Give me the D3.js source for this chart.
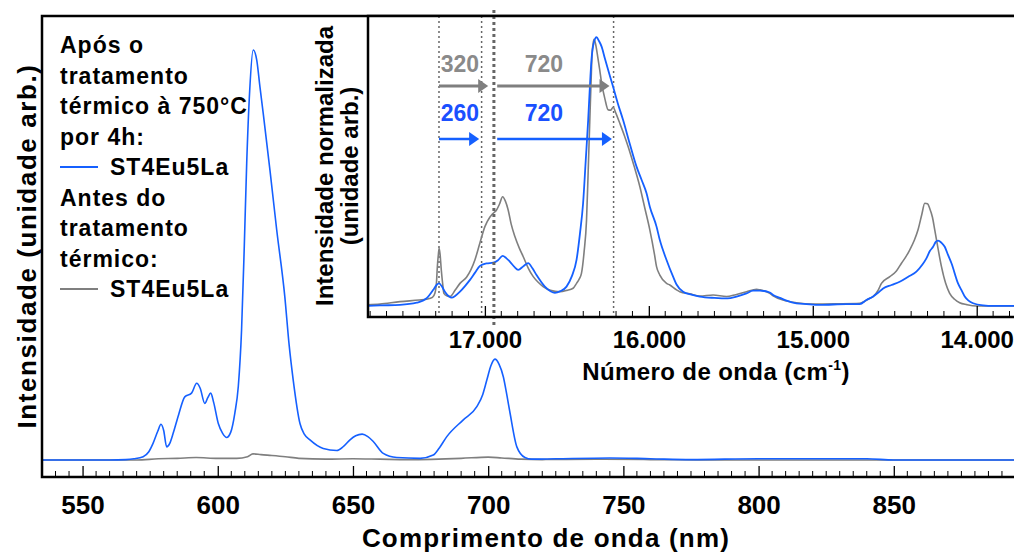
<!DOCTYPE html>
<html><head><meta charset="utf-8">
<script src="https://cdn.jsdelivr.net/npm/d3@7"></script>
<style>
html,body{margin:0;padding:0;background:#fff;}
svg{display:block;}
text{font-family:"Liberation Sans",Arial,sans-serif;font-weight:bold;}
</style></head>
<body>
<svg id="chart" width="1014" height="554"></svg>
<script>
// ---------- DATA ----------
// Main plot: wavelength (nm) vs intensity (arb.)
const mainTicks = [550, 600, 650, 700, 750, 800, 850];
const blueMainNm = [535,560,566,569,572.4,574.5,576.1,577.8,579,580,581.1,582.2,583.5,585.5,587.8,590.3,592.2,593.5,595.2,596.3,597.4,598.5,600.2,601.8,603.3,604.8,606.3,607.6,608.8,609.8,610.7,611.8,613.1,614.4,615.6,616.8,619.3,621.8,624.8,626.4,627.9,630.4,632,634.1,639,644,646.5,648.9,651,653.4,655.5,657.5,661.2,666.2,674.8,679.7,682,684.7,690.8,695.8,698,699.5,701,702.5,704,705.6,707,708.1,710.6,713.6,716,725,745,760,775,800,840,850,900];
const blueMainI  = [0,0,0.1,0.3,0.8,2,4.1,7,8.7,7.2,3.2,4,6.5,11,15.4,16.3,18.7,17.5,13.8,15.2,16.3,14,8.9,6.5,5.5,6.8,11.4,18,31.7,52,72.4,90,100,97.6,91,84.6,70.7,56.1,39.8,28,19.5,8.9,6.3,4.9,2.8,2.3,3.3,4.9,5.9,6.3,5.7,4.5,1.6,0.6,0.4,1.2,3,5.7,9.8,13,16,19.5,23,24.6,23.4,20.3,15.5,11.4,3.2,0.6,0.2,0.3,0.5,0.3,0.1,0.3,0.3,0,0];
const grayMainNm = [535,570,578,585,592,600,607,611,613,616,620,625,630,640,650,660,670,690,700,705,712,720,740,760,780,900];
const grayMainI  = [0,0,0.3,0.4,0.6,0.4,0.4,0.8,1.5,1.3,1.1,0.8,0.4,0.2,0.3,0.2,0.1,0.4,0.7,0.5,0.2,0.1,0.2,0.1,0,0];

// Inset: wavenumber (cm-1) vs normalized intensity
const insetTicks = [17000, 16000, 15000, 14000];
const insetTickLabels = ["17.000", "16.000", "15.000", "14.000"];
const blueInsetWn = [17720,17640,17518,17416,17355,17315,17295,17279,17262,17244,17220,17203,17180,17152,17120,17091,17060,17030,16990,16949,16920,16892,16870,16848,16820,16797,16765,16736,16710,16685,16634,16600,16573,16540,16502,16470,16441,16420,16401,16385,16370,16360,16350,16335,16319,16304,16288,16268,16248,16218,16190,16157,16115,16075,16045,16014,15994,15953,15933,15892,15852,15831,15791,15740,15689,15600,15520,15465,15404,15364,15323,15262,15242,15200,15160,15100,15038,14957,14795,14713,14673,14632,14600,14571,14520,14470,14420,14368,14330,14307,14285,14266,14250,14236,14215,14195,14175,14154,14114,14090,14073,14050,14022,13960,13900,13700];
const blueInsetI  = [0,0.002,0.004,0.012,0.029,0.06,0.078,0.084,0.072,0.053,0.036,0.031,0.038,0.053,0.075,0.097,0.124,0.149,0.158,0.161,0.17,0.186,0.178,0.165,0.145,0.134,0.148,0.159,0.14,0.115,0.072,0.055,0.049,0.055,0.072,0.11,0.171,0.27,0.382,0.54,0.691,0.81,0.914,0.98,0.999,0.985,0.964,0.92,0.877,0.815,0.755,0.691,0.6,0.518,0.47,0.419,0.369,0.295,0.245,0.171,0.109,0.08,0.053,0.042,0.035,0.03,0.028,0.035,0.047,0.057,0.057,0.05,0.041,0.03,0.02,0.01,0.007,0.004,0.007,0.007,0.022,0.035,0.05,0.065,0.078,0.09,0.108,0.128,0.155,0.177,0.205,0.22,0.238,0.243,0.235,0.22,0.19,0.159,0.084,0.055,0.035,0.02,0.01,0.002,0,0];
const grayInsetWn = [17720,17640,17518,17400,17355,17320,17305,17295,17290,17284,17279,17273,17266,17258,17250,17230,17213,17180,17152,17112,17085,17061,17030,17000,16970,16949,16929,16910,16892,16875,16858,16840,16817,16790,16766,16735,16705,16675,16645,16600,16543,16500,16462,16440,16425,16411,16395,16380,16370,16360,16352,16346,16340,16334,16325,16315,16300,16288,16268,16248,16232,16218,16200,16177,16150,16126,16090,16055,16025,15994,15965,15953,15933,15892,15872,15831,15811,15750,15689,15608,15526,15470,15404,15343,15323,15262,15242,15181,15100,15000,14850,14713,14652,14632,14600,14581,14530,14490,14459,14430,14409,14380,14358,14335,14317,14300,14287,14270,14256,14235,14215,14190,14165,14135,14104,14060,14002,13700];
const grayInsetI  = [0.004,0.007,0.016,0.022,0.025,0.032,0.047,0.09,0.146,0.19,0.214,0.19,0.134,0.085,0.047,0.037,0.035,0.06,0.084,0.107,0.135,0.171,0.235,0.295,0.33,0.345,0.357,0.38,0.406,0.39,0.357,0.305,0.258,0.215,0.183,0.14,0.109,0.088,0.072,0.058,0.053,0.058,0.066,0.085,0.1,0.121,0.2,0.32,0.5,0.691,0.84,0.939,0.975,0.991,0.975,0.939,0.88,0.828,0.77,0.729,0.728,0.739,0.715,0.679,0.635,0.592,0.52,0.444,0.365,0.283,0.19,0.146,0.115,0.084,0.078,0.06,0.053,0.045,0.037,0.041,0.035,0.042,0.053,0.062,0.06,0.047,0.038,0.022,0.012,0.007,0.008,0.01,0.029,0.035,0.06,0.084,0.109,0.13,0.159,0.185,0.208,0.245,0.283,0.34,0.382,0.38,0.363,0.33,0.283,0.21,0.146,0.085,0.047,0.025,0.012,0.005,0,0];

// Inset annotations
const dottedWn = [17280, 17020, 16215];
const thickDottedWn = [16945];
const grayArrows = [[17280, 16980], [16925, 16240]];
const blueArrows = [[17280, 17035], [16925, 16225]];
const grayLabels = [{wn: 17152, t: "320"}, {wn: 16640, t: "720"}];
const blueLabels = [{wn: 17152, t: "260"}, {wn: 16640, t: "720"}];

// Legend
const legendLines = ["Após o", "tratamento", "térmico à 750°C", "por 4h:", "ST4Eu5La", "Antes do", "tratamento", "térmico:", "ST4Eu5La"];

const BLUE = "#1560ff", GRAY = "#7f7f7f";

// ---------- DRAW ----------
const svg = d3.select("#chart");

// Main plot
const M = {l: 42, t: 16, b: 477, r: 1029};
const x = d3.scaleLinear().domain([535, 900]).range([M.l, M.r]);
const y = d3.scaleLinear().domain([-4.15, 108.3]).range([M.b, M.t]);

svg.append("clipPath").attr("id", "clipMain").append("rect")
  .attr("x", M.l).attr("y", M.t).attr("width", M.r - M.l).attr("height", M.b - M.t);

const lineMain = d3.line().x(d => x(d[0])).y(d => y(d[1])).curve(d3.curveMonotoneX);
const gMain = svg.append("g").attr("clip-path", "url(#clipMain)");
gMain.append("path").datum(d3.zip(grayMainNm, grayMainI)).attr("d", lineMain)
  .attr("fill", "none").attr("stroke", GRAY).attr("stroke-width", 1.6);
gMain.append("path").datum(d3.zip(blueMainNm, blueMainI)).attr("d", lineMain)
  .attr("fill", "none").attr("stroke", BLUE).attr("stroke-width", 1.6);

// main minor/major ticks (inward)
const minorMain = d3.range(535, 901, 5).filter(v => v % 50 !== 0);
const xAxisMain = svg.append("g").attr("transform", `translate(0,${M.b})`);
xAxisMain.selectAll("line.minor").data(minorMain).join("line")
  .attr("x1", d => x(d)).attr("x2", d => x(d)).attr("y1", 0).attr("y2", -6)
  .attr("stroke", "#000").attr("stroke-width", 1);
xAxisMain.call(d3.axisBottom(x).tickValues(mainTicks).tickSize(-11).tickFormat(d3.format("d")))
  .call(g => g.select(".domain").remove())
  .call(g => g.selectAll(".tick line").attr("stroke", "#000").attr("stroke-width", 1.3))
  .call(g => g.selectAll(".tick text").attr("y", 37).attr("dy", 0)
     .attr("font-size", 26).attr("fill", "#000")
     .style("font-family", '"Liberation Sans",Arial,sans-serif').style("font-weight", "bold"));

// main frame
svg.append("path").attr("d", `M${M.r},${M.t}H${M.l}V${M.b}H${M.r}`)
  .attr("fill", "none").attr("stroke", "#000").attr("stroke-width", 2.5);

// main titles
svg.append("text").attr("x", 546).attr("y", 547).attr("text-anchor", "middle")
  .attr("font-size", 26).style("letter-spacing", "1.2px").text("Comprimento de onda (nm)");
svg.append("text").attr("transform", "translate(36,246) rotate(-90)").attr("text-anchor", "middle")
  .attr("font-size", 26).style("letter-spacing", "1.6px").text("Intensidade (unidade arb.)");

// legend
const lg = svg.append("g");
legendLines.forEach((t, i) => {
  const isSeries = i === 4 || i === 8;
  lg.append("text").attr("x", isSeries ? 110 : 60).attr("y", 53 + i * 30.5)
    .attr("font-size", 23).style("letter-spacing", "1px").text(t);
});
lg.append("line").attr("x1", 60).attr("x2", 98).attr("y1", 53 + 4 * 30.5 - 8).attr("y2", 53 + 4 * 30.5 - 8)
  .attr("stroke", BLUE).attr("stroke-width", 2);
lg.append("line").attr("x1", 60).attr("x2", 98).attr("y1", 53 + 8 * 30.5 - 8).attr("y2", 53 + 8 * 30.5 - 8)
  .attr("stroke", GRAY).attr("stroke-width", 2);

// ---------- Inset ----------
const I = {l: 368, t: 16, b: 317, r: 1030};
const xi = d3.scaleLinear().domain([17713, 13675]).range([I.l, I.r]);
const yi = d3.scaleLinear().domain([-0.041, 1.078]).range([I.b, I.t]);

svg.append("rect").attr("x", I.l).attr("y", I.t).attr("width", I.r - I.l).attr("height", I.b - I.t).attr("fill", "#fff");
svg.append("clipPath").attr("id", "clipIn").append("rect")
  .attr("x", I.l).attr("y", I.t).attr("width", I.r - I.l).attr("height", I.b - I.t);

const gIn = svg.append("g").attr("clip-path", "url(#clipIn)");

// dotted guide lines
gIn.selectAll("line.dot").data(dottedWn).join("line")
  .attr("x1", d => xi(d)).attr("x2", d => xi(d)).attr("y1", I.t).attr("y2", I.b)
  .attr("stroke", "#666").attr("stroke-width", 1.5).attr("stroke-dasharray", "2,3");

const lineIn = d3.line().x(d => xi(d[0])).y(d => yi(d[1])).curve(d3.curveMonotoneX);
gIn.append("path").datum(d3.zip(grayInsetWn, grayInsetI)).attr("d", lineIn)
  .attr("fill", "none").attr("stroke", GRAY).attr("stroke-width", 1.6);
gIn.append("path").datum(d3.zip(blueInsetWn, blueInsetI)).attr("d", lineIn)
  .attr("fill", "none").attr("stroke", BLUE).attr("stroke-width", 1.8);

// thick dotted line (extends past frame)
svg.selectAll("line.thick").data(thickDottedWn).join("line")
  .attr("x1", d => xi(d)).attr("x2", d => xi(d)).attr("y1", 10).attr("y2", 327)
  .attr("stroke", "#666").attr("stroke-width", 3).attr("stroke-dasharray", "3,3");

// arrows
function drawArrows(list, yy, color, w) {
  list.forEach(([a, b]) => {
    const x1 = xi(a), x2 = xi(b);
    svg.append("line").attr("x1", x1).attr("x2", x2 - 8).attr("y1", yy).attr("y2", yy)
      .attr("stroke", color).attr("stroke-width", w);
    svg.append("path").attr("d", `M${x2},${yy}L${x2 - 10},${yy - 7}L${x2 - 10},${yy + 7}Z`).attr("fill", color);
  });
}
drawArrows(grayArrows, 86, GRAY, 3);
drawArrows(blueArrows, 139, BLUE, 2.5);

svg.selectAll("text.gl").data(grayLabels).join("text").attr("class", "gl")
  .attr("x", d => xi(d.wn)).attr("y", 72).attr("text-anchor", "middle")
  .attr("font-size", 23).attr("fill", "#8a8a8a").text(d => d.t);
svg.selectAll("text.bl").data(blueLabels).join("text").attr("class", "bl")
  .attr("x", d => xi(d.wn)).attr("y", 121).attr("text-anchor", "middle")
  .attr("font-size", 23).attr("fill", "#1a50ff").text(d => d.t);

// inset ticks
const minorIn = d3.range(13700, 17701, 100).filter(v => v % 1000 !== 0);
const xAxisIn = svg.append("g").attr("transform", `translate(0,${I.b})`);
xAxisIn.selectAll("line.minor").data(minorIn).join("line")
  .attr("x1", d => xi(d)).attr("x2", d => xi(d)).attr("y1", 0).attr("y2", -6)
  .attr("stroke", "#000").attr("stroke-width", 1);
xAxisIn.call(d3.axisBottom(xi).tickValues(insetTicks).tickSize(-11).tickFormat((d, i) => insetTickLabels[i]))
  .call(g => g.select(".domain").remove())
  .call(g => g.selectAll(".tick line").attr("stroke", "#000").attr("stroke-width", 1.3))
  .call(g => g.selectAll(".tick text").attr("y", 31).attr("dy", 0)
     .attr("font-size", 24).attr("fill", "#000")
     .style("font-family", '"Liberation Sans",Arial,sans-serif').style("font-weight", "bold"));

// inset frame
svg.append("path").attr("d", `M${I.r},${I.t}H${I.l}V${I.b}H${I.r}`)
  .attr("fill", "none").attr("stroke", "#000").attr("stroke-width", 2.5);

// inset titles
const xt = svg.append("text").attr("x", 716).attr("y", 380).attr("text-anchor", "middle")
  .attr("font-size", 24).style("letter-spacing", "0.4px");
xt.append("tspan").text("Número de onda (cm");
xt.append("tspan").attr("font-size", 14).attr("dy", -10).text("-1");
xt.append("tspan").attr("dy", 10).text(")");

svg.append("text").attr("transform", "translate(333,166) rotate(-90)").attr("text-anchor", "middle")
  .attr("font-size", 24).text("Intensidade normalizada");
svg.append("text").attr("transform", "translate(358,166) rotate(-90)").attr("text-anchor", "middle")
  .attr("font-size", 24).text("(unidade arb.)");
</script>
</body></html>
